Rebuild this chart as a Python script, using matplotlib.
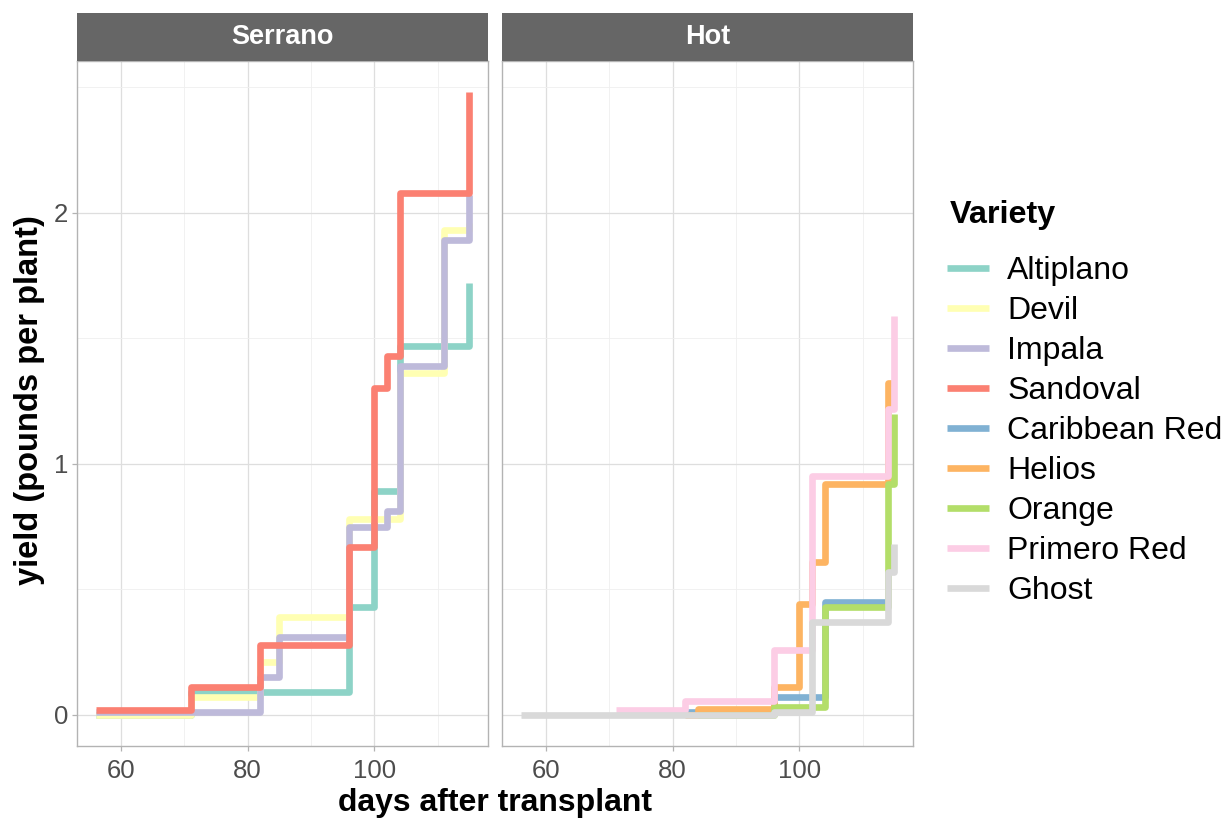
import matplotlib
matplotlib.use("Agg")
import matplotlib.pyplot as plt
from matplotlib.lines import Line2D
from matplotlib.ticker import MultipleLocator

plt.rcParams['font.family'] = ['Liberation Sans', 'DejaVu Sans']

# Serrano panel
serrano_names = ["Altiplano", "Devil", "Impala", "Sandoval"]
altiplano_days = [56, 71, 96, 100, 104, 115]
altiplano_yield = [0.0, 0.09, 0.43, 0.89, 1.47, 1.72]
devil_days = [56, 71, 82, 85, 96, 104, 111, 115]
devil_yield = [0.0, 0.07, 0.21, 0.39, 0.78, 1.36, 1.93, 1.96]
impala_days = [56, 82, 85, 96, 102, 104, 111, 115]
impala_yield = [0.01, 0.15, 0.31, 0.75, 0.81, 1.39, 1.89, 2.07]
sandoval_days = [56, 71, 82, 96, 100, 102, 104, 115]
sandoval_yield = [0.02, 0.11, 0.28, 0.67, 1.30, 1.43, 2.08, 2.48]

# Hot panel
hot_names = ["Caribbean Red", "Helios", "Orange", "Primero Red", "Ghost"]
caribbean_days = [82, 96, 104, 114]
caribbean_yield = [0.01, 0.07, 0.45, 0.45]
helios_days = [82, 84, 96, 100, 102, 104, 114, 115]
helios_yield = [0.0, 0.025, 0.11, 0.44, 0.61, 0.92, 1.32, 1.32]
orange_days = [84, 96, 104, 114, 115]
orange_yield = [0.0, 0.03, 0.43, 0.92, 1.20]
primero_days = [71, 82, 96, 102, 114, 115]
primero_yield = [0.02, 0.055, 0.26, 0.95, 1.22, 1.59]
ghost_days = [56, 96, 102, 114, 115]
ghost_yield = [0.0, 0.013, 0.37, 0.57, 0.68]

colors = {
    "Altiplano": "#8DD3C7", "Devil": "#FFFFB3", "Impala": "#BEBADA",
    "Sandoval": "#FB8072", "Caribbean Red": "#80B1D3", "Helios": "#FDB462",
    "Orange": "#B3DE69", "Primero Red": "#FCCDE5", "Ghost": "#D9D9D9",
}

serrano = [(altiplano_days, altiplano_yield), (devil_days, devil_yield),
           (impala_days, impala_yield), (sandoval_days, sandoval_yield)]
hot = [(caribbean_days, caribbean_yield), (helios_days, helios_yield),
       (orange_days, orange_yield), (primero_days, primero_yield),
       (ghost_days, ghost_yield)]

W, H = 1227, 822
fig = plt.figure(figsize=(W / 100, H / 100), dpi=100)

LW = 4.8
panel_top, panel_bot = 61, 746
strip_top = 13
panels = [(77, 488, "Serrano", serrano_names, serrano),
          (502, 913, "Hot", hot_names, hot)]

for i, (x0, x1, title, names, series) in enumerate(panels):
    ax = fig.add_axes([x0 / W, 1 - panel_bot / H, (x1 - x0) / W,
                       (panel_bot - panel_top) / H])
    for name, (d, y) in zip(names, series):
        ax.plot(d, y, drawstyle='steps-post', color=colors[name], lw=LW,
                solid_joinstyle='round', solid_capstyle='butt')
    ax.set_xlim(53.05, 117.95)
    ax.set_ylim(-0.124, 2.604)
    ax.xaxis.set_major_locator(MultipleLocator(20))
    ax.xaxis.set_minor_locator(MultipleLocator(10))
    ax.yaxis.set_major_locator(MultipleLocator(1))
    ax.yaxis.set_minor_locator(MultipleLocator(0.5))
    ax.grid(which='major', color='#DEDEDE', lw=0.9)
    ax.grid(which='minor', color='#EFEFEF', lw=0.6)
    ax.set_axisbelow(True)
    for s in ax.spines.values():
        s.set_color('#B3B3B3')
        s.set_linewidth(1.0)
    ax.tick_params(which='major', length=3.5, color='#B3B3B3', width=0.9,
                   labelsize=18.5, labelcolor='#4D4D4D', pad=3)
    ax.tick_params(axis='x', pad=6)
    ax.tick_params(which='minor', length=0)
    if i == 1:
        ax.tick_params(axis='y', which='both', length=0, labelleft=False)
    # facet strip
    sax = fig.add_axes([x0 / W, 1 - panel_top / H, (x1 - x0) / W,
                        (panel_top - strip_top) / H])
    sax.set_facecolor('#666666')
    sax.set_xticks([])
    sax.set_yticks([])
    for s in sax.spines.values():
        s.set_visible(False)
    sax.text(0.5, 0.5, title, color='white', fontsize=19.5, fontweight='bold',
             ha='center', va='center', transform=sax.transAxes)

fig.text(495 / W, 1 - 803 / H, "days after transplant", ha='center',
         va='center', fontsize=23, fontweight='bold')
fig.text(30 / W, 1 - 400 / H, "yield (pounds per plant)", ha='center',
         va='center', rotation=90, fontsize=23.5, fontweight='bold')

all_names = serrano_names + hot_names
handles = [Line2D([], [], color=colors[n], lw=LW, solid_capstyle='butt')
           for n in all_names]
fig.text(950 / W, 1 - 215 / H, "Variety", ha='left', va='center',
         fontsize=23.3, fontweight='bold')
leg = fig.legend(handles, all_names, loc='upper left',
                 bbox_to_anchor=(947 / W, 1 - 256 / H), frameon=False,
                 fontsize=23, handlelength=1.32, handletextpad=0.56,
                 labelspacing=0.312, borderpad=0, borderaxespad=0)

fig.savefig("out.png", dpi=100)
